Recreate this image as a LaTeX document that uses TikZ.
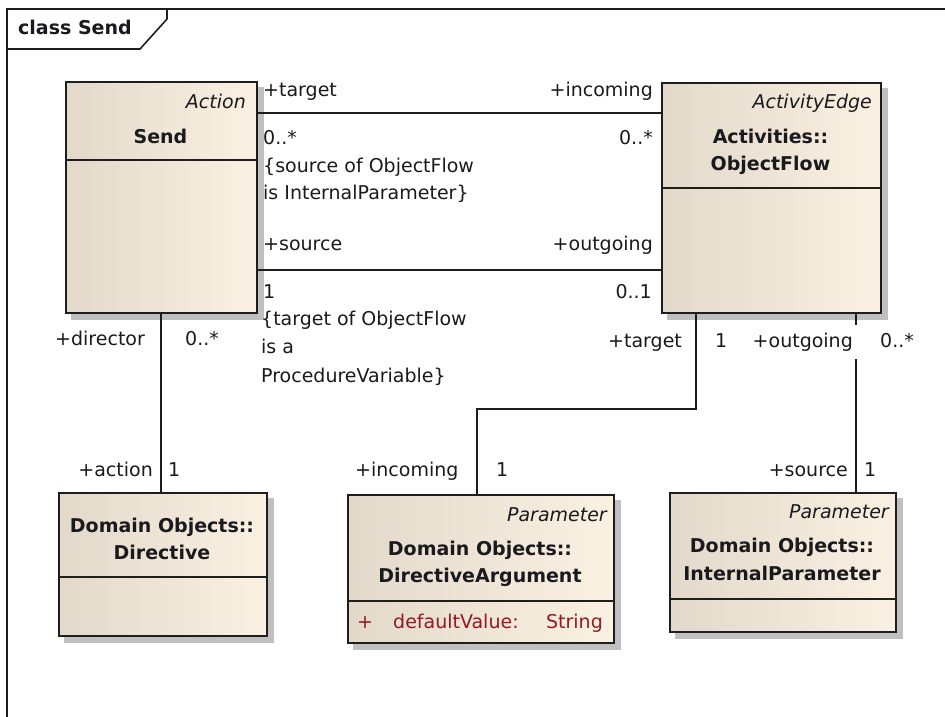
\documentclass[tikz,border=0pt]{standalone}
\usepackage{fontspec}
\setmainfont{DejaVu Sans}
\usetikzlibrary{backgrounds}
\definecolor{boxL}{RGB}{226,217,203}
\definecolor{boxR}{RGB}{251,241,226}
\definecolor{ink}{RGB}{26,26,30}
\definecolor{lineC}{RGB}{30,30,30}
\definecolor{shadowC}{RGB}{192,192,192}
\definecolor{attrC}{RGB}{150,25,35}
\tikzset{
  umlbox/.style={draw=lineC, line width=1.6pt, rectangle, anchor=north west, inner sep=0pt, left color=boxL, right color=boxR},
  sepline/.style={draw=lineC, line width=1.5pt},
  conn/.style={draw=lineC, line width=1.3pt},
  frameline/.style={draw=lineC, line width=1.6pt},
  lbl/.style={inner sep=0pt, text=ink, font=\fontsize{19}{28}\selectfont},
  lw/.style={lbl, anchor=base west},
  le/.style={lbl, anchor=base east},
  lc/.style={lbl, anchor=base},
  bname/.style={lc, font=\fontsize{19}{28}\selectfont\bfseries},
  stereo/.style={le, font=\fontsize{19}{28}\selectfont\itshape},
}
\begin{document}
\begin{tikzpicture}[x=1pt,y=-1pt]
\useasboundingbox (0,0) rectangle (945,717);
% frame
\draw[frameline] (945,9) -- (7,9) -- (7,717);
\draw[frameline] (167,9) -- (167,19) -- (140,49) -- (7,49);
\node[lw, font=\fontsize{19}{28}\selectfont\bfseries] (title) at (18,35) {class Send};

% boxes
\node[umlbox, minimum width=191pt, minimum height=231pt] (send) at (65,81) {};
\node[umlbox, minimum width=219pt, minimum height=230pt] (of) at (661,82) {};
\node[umlbox, minimum width=208pt, minimum height=143pt] (dir) at (58,492) {};
\node[umlbox, minimum width=266pt, minimum height=148pt] (darg) at (347,494) {};
\node[umlbox, minimum width=226pt, minimum height=139pt] (ip) at (669,492) {};

\begin{scope}[on background layer]
\foreach \b in {send,of,dir,darg,ip}{
  \fill[shadowC] ([shift={(6pt,-6pt)}]\b.south west) rectangle ([shift={(6pt,-6pt)}]\b.north east);
}
\end{scope}

% compartments
\draw[sepline] (send.west |- 0,160) -- (send.east |- 0,160);
\draw[sepline] (of.west |- 0,188) -- (of.east |- 0,188);
\draw[sepline] (dir.west |- 0,577) -- (dir.east |- 0,577);
\draw[sepline] (darg.west |- 0,601) -- (darg.east |- 0,601);
\draw[sepline] (ip.west |- 0,599) -- (ip.east |- 0,599);

% box texts
\node[stereo] (sendst) at (246,108) {Action};
\node[bname] (sendn) at (160.5,143) {Send};
\node[stereo] (ofst) at (872,108) {ActivityEdge};
\node[bname] (ofn1) at (770.5,143) {Activities::};
\node[bname] (ofn2) at (770.5,170) {ObjectFlow};
\node[bname] (dirn1) at (162,532) {Domain Objects::};
\node[bname] (dirn2) at (162,559) {Directive};
\node[stereo] (dargst) at (607,521) {Parameter};
\node[bname] (dargn1) at (480,555) {Domain Objects::};
\node[bname] (dargn2) at (480,582) {DirectiveArgument};
\node[lw, text=attrC] (attrp) at (357,628) {+};
\node[lw, text=attrC] (attr) at (393,628) {defaultValue:};
\node[le, text=attrC] (attrt) at (603,628) {String};
\node[stereo] (ipst) at (889,518) {Parameter};
\node[bname] (ipn1) at (782,552) {Domain Objects::};
\node[bname] (ipn2) at (782,580) {InternalParameter};

% connectors
\draw[conn] (send.east |- 0,113) -- (of.west |- 0,113);
\draw[conn] (send.east |- 0,270) -- (of.west |- 0,270);
\draw[conn] (send.south -| 161,0) -- (dir.north -| 161,0);
\draw[conn] (of.south -| 696,0) -- (696,409) -- (477,409) -- (darg.north -| 477,0);
\draw[conn] (of.south -| 856,0) -- (ip.north -| 856,0);

% association labels
\node[lw] (a1) at (263,96) {+target};
\node[le] (a2) at (653,96) {+incoming};
\node[lw] (a3) at (263,144) {0..*};
\node[le] (a4) at (653,144) {0..*};
\node[lw] (a5) at (263,172) {\{source of ObjectFlow};
\node[lw] (a6) at (263,199) {is InternalParameter\}};
\node[lw] (a7) at (263,250) {+source};
\node[le] (a8) at (653,250) {+outgoing};
\node[lw] (a9) at (263,298) {1};
\node[le] (a10) at (652,298) {0..1};
\node[lw] (a11) at (261,325) {\{target of ObjectFlow};
\node[lw] (a12) at (261,353) {is a};
\node[lw] (a13) at (261,382) {ProcedureVariable\}};

\node[lw] (b1) at (55,345) {+director};
\node[lw] (b2) at (185,345) {0..*};
\node[le] (b3) at (153,476) {+action};
\node[lw] (b4) at (168,476) {1};

\node[lw] (c1) at (608,347) {+target};
\node[lw] (c2) at (715,347) {1};
\node[le, fill=white, inner xsep=5pt, inner ysep=8pt, text height=14pt, text depth=4pt] (c3) at (858,347) {+outgoing};
\node[lw] (c4) at (880,347) {0..*};
\node[lw] (c5) at (355,476) {+incoming};
\node[lw] (c6) at (496,476) {1};
\node[le] (c7) at (848,476) {+source};
\node[lw] (c8) at (864,476) {1};
\end{tikzpicture}
\end{document}
